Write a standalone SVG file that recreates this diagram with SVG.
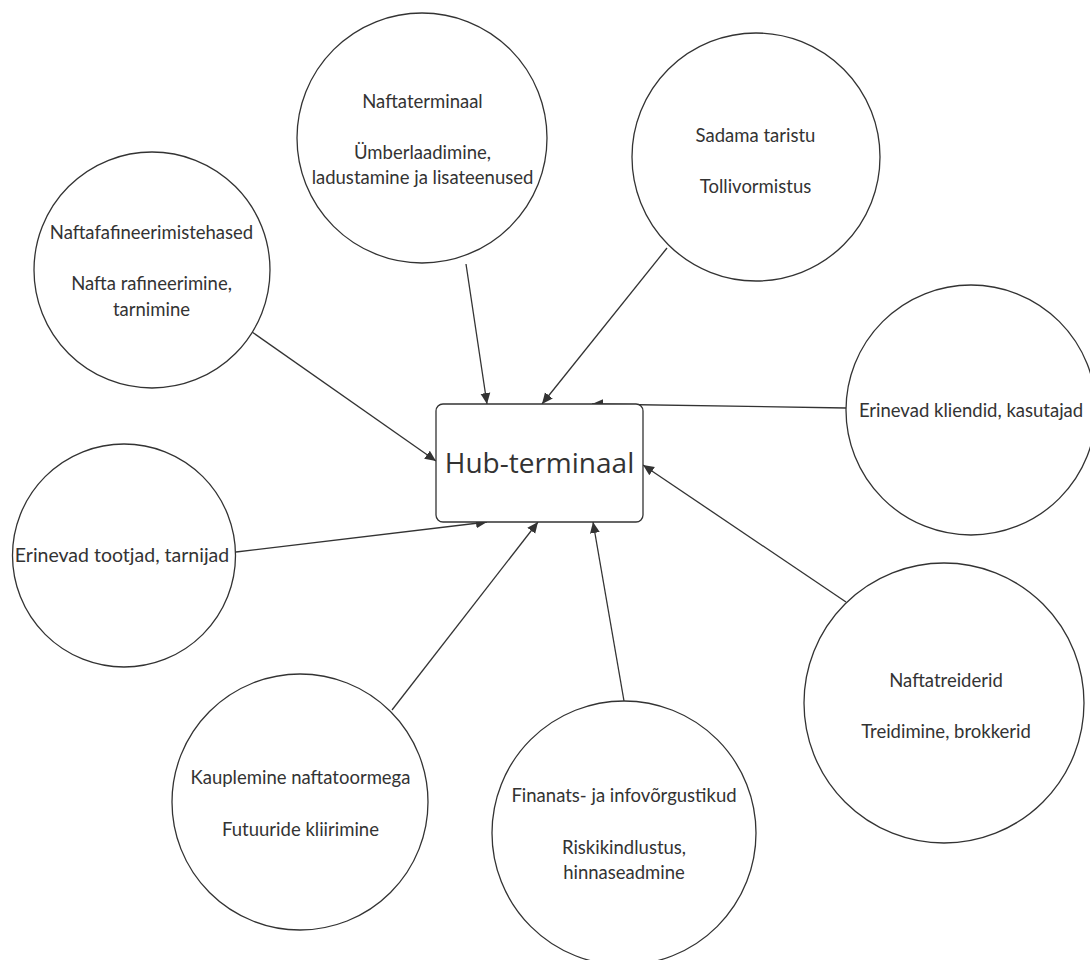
<svg xmlns="http://www.w3.org/2000/svg" width="1090" height="960" viewBox="0 0 1090 960">
<style>
.c{fill:#fff;stroke:#333;stroke-width:1.3}
.t{font-family:Lato,"Noto Sans",sans-serif;font-size:18.5px;fill:#333;text-anchor:middle}
.e{stroke:#333;stroke-width:1.3;fill:none;marker-end:url(#ah)}
</style>
<defs>
<marker id="ah" viewBox="0 0 10 10" refX="10" refY="5" markerWidth="11" markerHeight="11" markerUnits="userSpaceOnUse" orient="auto">
<path d="M0,0.5 L10,5 L0,9.5 Z" fill="#333"/>
</marker>
</defs>
<rect width="1090" height="960" fill="#fff"/>
<g id="connectors">
<line class="e" x1="466" y1="264" x2="487" y2="404"/>
<line class="e" x1="667" y1="248" x2="542" y2="404"/>
<line class="e" x1="846" y1="408" x2="592" y2="404"/>
<line class="e" x1="252" y1="332" x2="436" y2="461"/>
<line class="e" x1="236" y1="552" x2="487" y2="522"/>
<line class="e" x1="392" y1="710" x2="538" y2="522"/>
<line class="e" x1="624" y1="701" x2="593" y2="522"/>
<line class="e" x1="846" y1="602" x2="643" y2="465"/>
</g>
<g id="hub">
<rect x="436" y="404" width="207" height="118" rx="7" fill="#fff" stroke="#333" stroke-width="1.3"/>
<text x="539.5" y="473" font-family="'Open Sans','Noto Sans',sans-serif" font-size="28" fill="#333" text-anchor="middle">Hub-terminaal</text>
</g>
<g id="naftaterminaal">
<circle class="c" cx="422" cy="138" r="125"/>
<text class="t" x="422.5" y="108">Naftaterminaal</text>
<text class="t" x="422.5" y="159">Ümberlaadimine,</text>
<text class="t" x="422.5" y="184">ladustamine ja lisateenused</text>
</g>
<g id="sadama">
<circle class="c" cx="756" cy="157" r="124"/>
<text class="t" x="755.5" y="142">Sadama taristu</text>
<text class="t" x="755.5" y="193">Tollivormistus</text>
</g>
<g id="rafineerimistehased">
<circle class="c" cx="152" cy="270" r="118"/>
<text class="t" x="151.5" y="239">Naftafafineerimistehased</text>
<text class="t" x="151.5" y="290">Nafta rafineerimine,</text>
<text class="t" x="151.5" y="316">tarnimine</text>
</g>
<g id="kliendid">
<circle class="c" cx="971" cy="410" r="125"/>
<text class="t" x="971" y="417">Erinevad kliendid, kasutajad</text>
</g>
<g id="tootjad">
<circle class="c" cx="124" cy="555.5" r="111.5"/>
<text class="t" x="122" y="562" style="font-size:19.5px">Erinevad tootjad, tarnijad</text>
</g>
<g id="treiderid">
<circle class="c" cx="944" cy="703" r="140"/>
<text class="t" x="946" y="687">Naftatreiderid</text>
<text class="t" x="946" y="738">Treidimine, brokkerid</text>
</g>
<g id="kauplemine">
<circle class="c" cx="300" cy="802" r="128"/>
<text class="t" x="300.5" y="784">Kauplemine naftatoormega</text>
<text class="t" x="300.5" y="836">Futuuride kliirimine</text>
</g>
<g id="finants">
<circle class="c" cx="624" cy="833" r="132"/>
<text class="t" x="624" y="802">Finanats- ja infovõrgustikud</text>
<text class="t" x="624" y="854">Riskikindlustus,</text>
<text class="t" x="624" y="879">hinnaseadmine</text>
</g>
</svg>
